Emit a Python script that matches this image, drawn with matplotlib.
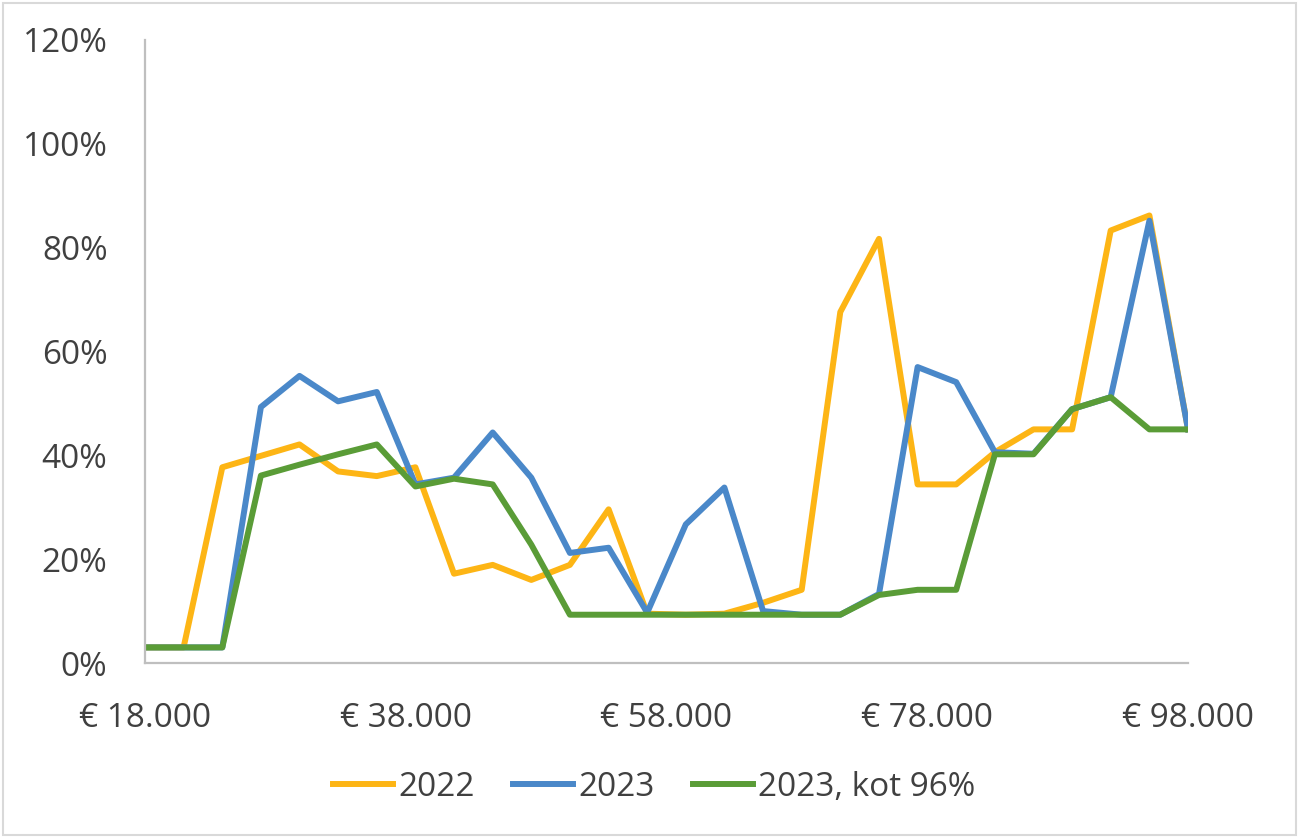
import matplotlib
matplotlib.use('Agg')
import matplotlib.pyplot as plt
import matplotlib.ticker as ticker
from matplotlib.patches import Rectangle

# ── Data ─────────────────────────────────────────────────────────────────────
income = [18000, 20960, 23930, 26890, 29850, 32810, 35780, 38740, 41700, 44670,
          47630, 50590, 53560, 56520, 59480, 62440, 65410, 68370, 71330, 74300,
          77260, 80220, 83190, 86150, 89110, 92070, 95040, 98000]

share_2022 = [3.0, 3.0, 37.7, 39.9, 42.1, 36.9, 36.0, 37.7, 17.2, 18.9,
              16.0, 18.9, 29.6, 9.5, 9.3, 9.5, 11.6, 14.1, 67.6, 81.7,
              34.4, 34.4, 40.6, 45.0, 45.0, 83.3, 86.2, 45.0]

share_2023 = [3.0, 3.0, 3.0, 49.3, 55.3, 50.4, 52.2, 34.4, 35.7, 44.4,
              35.7, 21.2, 22.2, 9.7, 26.7, 33.8, 10.0, 9.3, 9.3, 13.3,
              57.0, 54.1, 40.6, 40.3, 48.9, 51.2, 85.2, 45.0]

share_2023_kot = [3.0, 3.0, 3.0, 36.1, 38.2, 40.2, 42.1, 34.0, 35.5, 34.4,
                  22.8, 9.3, 9.3, 9.3, 9.3, 9.3, 9.3, 9.3, 9.3, 13.1,
                  14.1, 14.1, 40.2, 40.2, 48.9, 51.2, 45.0, 45.0]

x_ticks = [18000, 38000, 58000, 78000, 98000]
labels = ['2022', '2023', '2023, kot 96%']

# ── Style ────────────────────────────────────────────────────────────────────
plt.rcParams.update({
    'font.family': ['Open Sans', 'DejaVu Sans'],
})

COLOR_2022 = '#FDB515'
COLOR_2023 = '#4A88C9'
COLOR_KOT = '#5A9C37'
TEXT = '#404040'
LW = 4.3


def euro(v, _):
    return '€ ' + f'{v:,.0f}'.replace(',', '.')


fig = plt.figure(figsize=(12.99, 8.38), dpi=100)
ax = fig.add_axes([145 / 1299, 1 - 663 / 838, (1188 - 145) / 1299, (663 - 40) / 838])

ax.plot(income, [v / 100 for v in share_2022], color=COLOR_2022, lw=LW,
        solid_joinstyle='round', label=labels[0])
ax.plot(income, [v / 100 for v in share_2023], color=COLOR_2023, lw=LW,
        solid_joinstyle='round', label=labels[1])
ax.plot(income, [v / 100 for v in share_2023_kot], color=COLOR_KOT, lw=LW,
        solid_joinstyle='round', label=labels[2])

ax.set_xlim(x_ticks[0], x_ticks[-1])
ax.set_ylim(0, 1.2)
ax.xaxis.set_major_locator(ticker.FixedLocator(x_ticks))
ax.yaxis.set_major_locator(ticker.MultipleLocator(0.2))
ax.xaxis.set_major_formatter(ticker.FuncFormatter(euro))
ax.yaxis.set_major_formatter(ticker.FuncFormatter(lambda v, _: f'{v * 100:.0f}%'))
ax.tick_params(axis='both', length=0, labelsize=24, labelcolor=TEXT)
ax.tick_params(axis='y', pad=27)
ax.tick_params(axis='x', pad=28)

for side in ('top', 'right'):
    ax.spines[side].set_visible(False)
for side in ('left', 'bottom'):
    ax.spines[side].set_color('#BFBFBF')
    ax.spines[side].set_linewidth(1.6)

leg = fig.legend(loc='center', bbox_to_anchor=(654 / 1299, 1 - 787 / 838), ncol=3,
                 frameon=False, fontsize=24, handlelength=1.8, handletextpad=0.15,
                 columnspacing=1.15, borderpad=0)
for t in leg.get_texts():
    t.set_color(TEXT)

# chart border
fig.patches.append(Rectangle((0.002, 0.003), 0.996, 0.994, transform=fig.transFigure,
                             fill=False, edgecolor='#D9D9D9', lw=1.5))

fig.savefig('out.png', dpi=100)
